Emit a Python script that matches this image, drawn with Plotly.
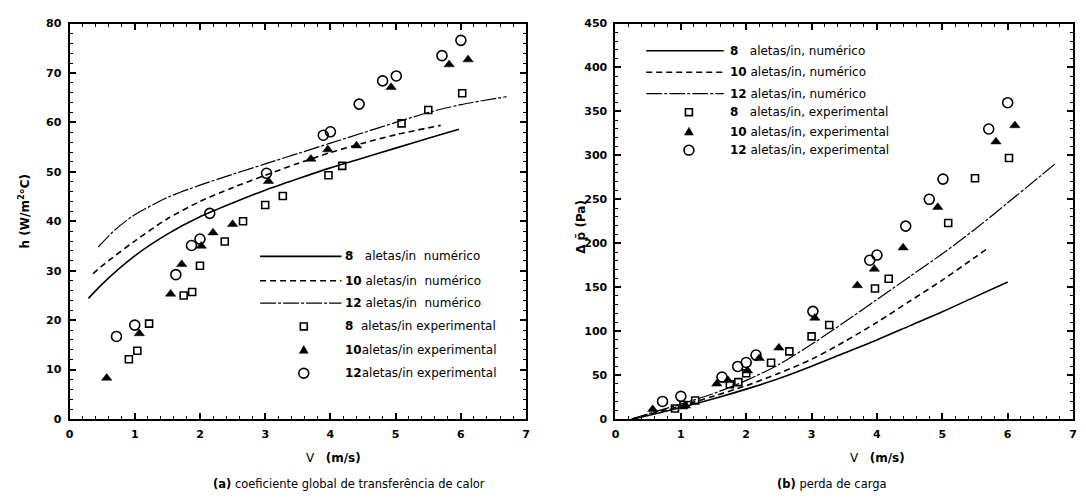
import plotly.graph_objects as go

# ---------------- data ----------------
# (a) heat transfer coefficient h (W/m2 C) vs V (m/s)
v_num8_h = [0.29, 0.5, 1.0, 1.5, 2.0, 2.5, 3.0, 3.5, 4.0, 4.5, 5.0, 5.5, 5.97]
h_num8 = [24.4, 27.3, 33.0, 37.4, 40.9, 43.7, 46.3, 48.6, 50.8, 52.8, 54.8, 56.8, 58.6]
v_num10_h = [0.36, 0.5, 1.0, 1.5, 2.0, 2.5, 3.0, 3.5, 4.0, 4.5, 5.0, 5.69]
h_num10 = [29.4, 31.0, 36.0, 40.5, 44.0, 46.8, 49.3, 51.7, 53.9, 55.8, 57.5, 59.4]
v_num12_h = [0.44, 0.7, 1.0, 1.5, 2.0, 2.5, 3.0, 3.5, 4.0, 4.5, 5.0, 5.5, 6.0, 6.7]
h_num12 = [34.8, 38.3, 41.3, 44.8, 47.3, 49.5, 51.6, 53.7, 55.8, 57.9, 60.0, 62.0, 63.6, 65.2]

v_exp8 = [0.91, 1.04, 1.22, 1.75, 1.88, 2.0, 2.38, 2.66, 3.0, 3.27, 3.97, 4.18, 5.09, 5.5, 6.02]
h_exp8 = [12.1, 13.8, 19.3, 25.0, 25.7, 31.0, 35.9, 40.0, 43.3, 45.1, 49.3, 51.2, 59.8, 62.5, 65.9]
v_exp10 = [0.57, 1.07, 1.55, 1.72, 2.02, 2.2, 2.5, 3.05, 3.7, 3.96, 4.4, 4.93, 5.82, 6.11]
h_exp10 = [8.3, 17.3, 25.3, 31.3, 35.0, 37.7, 39.4, 48.1, 52.6, 54.5, 55.3, 67.1, 71.7, 72.7]
v_exp12 = [0.72, 1.0, 1.63, 1.87, 2.0, 2.15, 3.02, 3.89, 4.0, 4.44, 4.8, 5.01, 5.71, 6.0]
h_exp12 = [16.7, 19.0, 29.2, 35.1, 36.4, 41.6, 49.7, 57.4, 58.1, 63.7, 68.4, 69.4, 73.5, 76.6]

# (b) pressure drop dp (Pa) vs V (m/s)
v_num8_p = [0.25, 0.5, 1.0, 1.5, 2.0, 2.5, 3.0, 3.5, 4.0, 4.5, 5.0, 5.5, 6.0]
dp_num8 = [0, 4, 13, 23, 34, 46, 60, 75, 90, 106, 122, 139, 156]
v_num10_p = [0.25, 0.5, 1.0, 1.5, 2.0, 2.5, 3.0, 3.5, 4.0, 4.5, 5.0, 5.5, 5.69]
dp_num10 = [0, 5, 15, 26, 38, 52, 68, 88, 110, 134, 158, 184, 194]
v_num12_p = [0.25, 0.5, 1.0, 1.5, 2.0, 2.5, 3.0, 3.5, 4.0, 4.5, 5.0, 5.5, 6.0, 6.72]
dp_num12 = [0, 6, 17, 29, 44, 62, 85, 110, 136, 162, 188, 216, 246, 290]

dp_exp8 = [12, 16, 21, 39.5, 42, 52, 64, 77, 94, 107, 148.5, 159.6, 223, 274, 297]
dp_exp10 = [11, 15, 40, 44, 55, 69, 81, 115, 152, 170.7, 195, 241, 315.5, 334]
dp_exp12 = [20, 25.8, 47.7, 59.8, 64.3, 72.8, 122.5, 180.7, 186.6, 219.5, 250, 273, 330, 359.9]

x_ticks = [0, 1, 2, 3, 4, 5, 6, 7]
h_ticks = [0, 10, 20, 30, 40, 50, 60, 70, 80]
p_ticks = [0, 50, 100, 150, 200, 250, 300, 350, 400, 450]

legend_num = ["8", "10", "12"]

# ---------------- layout helpers ----------------
W, H = 1086, 502
def px(x):
    return x / W
def py(y):
    return 1 - y / H

BLACK = "black"
DASH10 = "6px,4px"
DASH12 = "16px,2px,3px,2px"

fig = go.Figure()

def add_lines(xa, ya, xs, ys, dash, width):
    fig.add_trace(go.Scatter(x=xs, y=ys, mode="lines", xaxis=xa, yaxis=ya,
                             line=dict(color=BLACK, width=width, dash=dash, shape="spline", smoothing=0.8),
                             showlegend=False, hoverinfo="skip"))

def add_markers(xa, ya, xs, ys, symbol, size, lw=1.6):
    fig.add_trace(go.Scatter(x=xs, y=ys, mode="markers", xaxis=xa, yaxis=ya,
                             marker=dict(symbol=symbol, size=size, color=BLACK,
                                         line=dict(color=BLACK, width=lw)),
                             showlegend=False, hoverinfo="skip"))

# (a)
add_lines("x", "y", v_num8_h, h_num8, "solid", 1.6)
add_lines("x", "y", v_num10_h, h_num10, DASH10, 1.6)
add_lines("x", "y", v_num12_h, h_num12, DASH12, 1.2)
add_markers("x", "y", v_exp8, h_exp8, "square-open", 7)
add_markers("x", "y", v_exp10, h_exp10, "triangle-up", 9, 0.5)
add_markers("x", "y", v_exp12, h_exp12, "circle-open", 10)
# (b)
add_lines("x2", "y2", v_num8_p, dp_num8, "solid", 1.6)
add_lines("x2", "y2", v_num10_p, dp_num10, DASH10, 1.6)
add_lines("x2", "y2", v_num12_p, dp_num12, DASH12, 1.2)
add_markers("x2", "y2", v_exp8, dp_exp8, "square-open", 7)
add_markers("x2", "y2", v_exp10, dp_exp10, "triangle-up", 9, 0.5)
add_markers("x2", "y2", v_exp12, dp_exp12, "circle-open", 10)

tickfont = dict(family="DejaVu Sans", size=11, color=BLACK, weight="bold")

def xaxis(domain, anchor):
    return dict(domain=domain, anchor=anchor, range=[0, 7], tickvals=x_ticks,
                ticktext=[str(t) for t in x_ticks], ticks="inside", ticklen=6, tickwidth=1.5,
                tickcolor=BLACK, showline=True, linewidth=2, linecolor=BLACK, mirror="ticks",
                showgrid=False, zeroline=False, tickfont=tickfont, ticklabelstandoff=4,
                minor=dict(ticks="inside", ticklen=3, dtick=0.2, tickcolor=BLACK, tickwidth=1, showgrid=False))

def yaxis(domain, anchor, rng, tv, dminor):
    return dict(domain=domain, anchor=anchor, range=rng, tickvals=tv,
                ticktext=[str(t) for t in tv], ticks="inside", ticklen=6, tickwidth=1.5,
                tickcolor=BLACK, showline=True, linewidth=2, linecolor=BLACK, mirror="ticks",
                showgrid=False, zeroline=False, tickfont=tickfont, ticklabelstandoff=4,
                minor=dict(ticks="inside", ticklen=3, dtick=dminor, tickcolor=BLACK, tickwidth=1, showgrid=False))

ydom = [py(424), py(18)]
fig.update_layout(
    width=W, height=H, margin=dict(l=0, r=0, t=0, b=0),
    paper_bgcolor="white", plot_bgcolor="white", showlegend=False,
    xaxis=xaxis([px(66), px(526)], "y"),
    yaxis=yaxis(ydom, "x", [0, 80], h_ticks, 2),
    xaxis2=xaxis([px(616), px(1077)], "y2"),
    yaxis2=yaxis(ydom, "x2", [0, 450], p_ticks, 10),
)

# ---------------- legends (drawn) ----------------
shapes = []
annotations = []
lfont = dict(family="DejaVu Sans", size=12, color=BLACK)

def legend_block(line_x0, line_x1, text_x, marker_x, rows, texts):
    styles = [("solid", 1.6), (DASH10, 1.6), (DASH12, 1.2)]
    for i in range(3):
        dash, wdt = styles[i]
        shapes.append(dict(type="line", xref="paper", yref="paper",
                           x0=px(line_x0), x1=px(line_x1), y0=py(rows[i]), y1=py(rows[i]),
                           line=dict(color=BLACK, width=wdt, dash=dash)))
    # square
    r = rows[3]
    shapes.append(dict(type="rect", xref="paper", yref="paper",
                       x0=px(marker_x - 3.5), x1=px(marker_x + 3.5), y0=py(r + 3.5), y1=py(r - 3.5),
                       line=dict(color=BLACK, width=1.6)))
    # triangle
    r = rows[4]
    path = "M {:.5f},{:.5f} L {:.5f},{:.5f} L {:.5f},{:.5f} Z".format(
        px(marker_x - 4.5), py(r + 3.5), px(marker_x + 4.5), py(r + 3.5), px(marker_x), py(r - 4.5))
    shapes.append(dict(type="path", xref="paper", yref="paper", path=path,
                       fillcolor=BLACK, line=dict(color=BLACK, width=0.5)))
    # circle
    r = rows[5]
    shapes.append(dict(type="circle", xref="paper", yref="paper",
                       x0=px(marker_x - 5), x1=px(marker_x + 5), y0=py(r + 5), y1=py(r - 5),
                       line=dict(color=BLACK, width=1.6)))
    for i in range(6):
        annotations.append(dict(xref="paper", yref="paper", x=px(text_x), y=py(rows[i]),
                                xanchor="left", yanchor="middle", showarrow=False,
                                text=texts[i], font=lfont))

def lab(n, rest):
    sep = "   " if len(n) == 1 else " "
    return "<b>" + n + "</b>" + sep + rest

texts_a = [lab(legend_num[0], "aletas/in  numérico"), lab(legend_num[1], "aletas/in  numérico"),
           lab(legend_num[2], "aletas/in  numérico"),
           lab(legend_num[0], "aletas/in experimental").replace("   ", "  "),
           lab(legend_num[1], "aletas/in experimental").replace(" a", "a"),
           lab(legend_num[2], "aletas/in experimental").replace(" a", "a")]
legend_block(258, 340, 342, 302, [257, 282, 305, 329, 353, 377], texts_a)

texts_b = [lab(legend_num[0], "aletas/in, numérico"), lab(legend_num[1], "aletas/in, numérico"),
           lab(legend_num[2], "aletas/in, numérico"),
           lab(legend_num[0], "aletas/in, experimental"), lab(legend_num[1], "aletas/in, experimental"),
           lab(legend_num[2], "aletas/in, experimental")]
legend_block(647, 725, 729, 690, [46, 68, 90, 109, 129, 148], texts_b)

# ---------------- titles and captions ----------------
tfont = dict(family="DejaVu Sans", size=12, color=BLACK)
annotations += [
    dict(xref="paper", yref="paper", x=px(20), y=py(211), text="<b>h (W/m<sup>2</sup>°C)</b>",
         textangle=-90, showarrow=False, xanchor="center", yanchor="middle", font=tfont),
    dict(xref="paper", yref="paper", x=px(581), y=py(227), text="<b>Δ p̄ (Pa)</b>",
         textangle=-90, showarrow=False, xanchor="center", yanchor="middle", font=tfont),
    dict(xref="paper", yref="paper", x=px(332), y=py(464), text="V   <b>(m/s)</b>",
         showarrow=False, xanchor="center", yanchor="middle", font=tfont),
    dict(xref="paper", yref="paper", x=px(880), y=py(464), text="V   <b>(m/s)</b>",
         showarrow=False, xanchor="center", yanchor="middle", font=tfont),
    dict(xref="paper", yref="paper", x=px(209), y=py(491),
         text="<b>(a)</b> coeficiente global de transferência de calor",
         showarrow=False, xanchor="left", yanchor="middle", font=dict(family="DejaVu Sans", size=11.5, color=BLACK)),
    dict(xref="paper", yref="paper", x=px(777), y=py(491), text="<b>(b)</b> perda de carga",
         showarrow=False, xanchor="left", yanchor="middle", font=dict(family="DejaVu Sans", size=11.5, color=BLACK)),
]

fig.update_layout(shapes=shapes, annotations=annotations)
fig.write_html("out.html")
